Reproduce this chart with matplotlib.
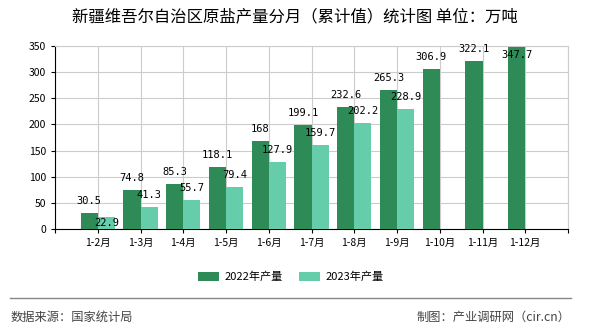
import matplotlib
matplotlib.use('Agg')
import matplotlib.pyplot as plt
import numpy as np

plt.rcParams['font.family'] = ['Noto Sans CJK SC', 'DejaVu Sans']

# data
months = ['1-2月', '1-3月', '1-4月', '1-5月', '1-6月', '1-7月', '1-8月',
          '1-9月', '1-10月', '1-11月', '1-12月']
y2022 = [30.5, 74.8, 85.3, 118.1, 168, 199.1, 232.6, 265.3, 306.9, 322.1, 347.7]
y2023 = [22.9, 41.3, 55.7, 79.4, 127.9, 159.7, 202.2, 228.9]
label2022 = ['30.5', '74.8', '85.3', '118.1', '168', '199.1', '232.6', '265.3',
             '306.9', '322.1', '347.7']
label2023 = ['22.9', '41.3', '55.7', '79.4', '127.9', '159.7', '202.2', '228.9']

c22 = '#2E8B57'
c23 = '#66CDAA'

fig = plt.figure(figsize=(5.9, 3.3), dpi=100)
ax = fig.add_axes([55/590, 1 - 229/330, (568-55)/590, (229-46)/330])

x = np.arange(1, len(months) + 1)
w = 0.4
b1 = ax.bar(x - w/2, y2022, width=w, color=c22, zorder=3, label='2022年产量')
x23 = x[:len(y2023)]
b2 = ax.bar(x23 + w/2, y2023, width=w, color=c23, zorder=3, label='2023年产量')

# value labels (pushed inside when they would run off the top,
# 2023 label dropped when it would collide with the 2022 one)
for xi, v, s in zip(x, y2022, label2022):
    ly = v + 23 if v + 23 < 360 else 333
    ax.text(xi - w/2, ly, s, ha='center', va='center', fontsize=7.5,
            family='DejaVu Sans Mono', zorder=4)
for i, (xi, v, s) in enumerate(zip(x23, y2023, label2023)):
    ly = v + 23 if y2022[i] - v > 20 else v - 11
    ax.text(xi + w/2, ly, s, ha='center', va='center', fontsize=7.5,
            family='DejaVu Sans Mono', zorder=4)

ax.set_xlim(0, 12)
ax.set_ylim(0, 350)
ax.set_yticks(range(0, 351, 50))
ax.set_xticks(range(0, 13))
ax.set_xticklabels([''] + months + [''])
ax.tick_params(axis='both', labelsize=7.5, length=3, color='black')
ax.grid(True, color='#cccccc', linewidth=0.8, zorder=0)
for s in ['top', 'right']:
    ax.spines[s].set_color('#cccccc')
ax.spines['left'].set_color('black')
ax.spines['bottom'].set_color('black')

fig.text(0.5, 1 - 17/330, '新疆维吾尔自治区原盐产量分月（累计值）统计图 单位：万吨',
         ha='center', va='center', fontsize=11.8)

fig.legend(handles=[b1, b2], loc='center', bbox_to_anchor=(291/590, 1 - 277/330),
           ncol=2, frameon=False, fontsize=8, handlelength=1.9, handleheight=0.8,
           handletextpad=0.5, columnspacing=1.4)

fig.add_artist(plt.Line2D([10/590, 571/590], [1 - 298/330, 1 - 298/330],
                          color='#888888', linewidth=1))
fig.text(11/590, 1 - 317/330, '数据来源：国家统计局', ha='left', va='center',
         fontsize=8.8, color='#444444')
fig.text(570/590, 1 - 317/330, '制图：产业调研网（cir.cn）', ha='right', va='center',
         fontsize=8.8, color='#444444')

fig.savefig('out.png', dpi=100, facecolor='white')
